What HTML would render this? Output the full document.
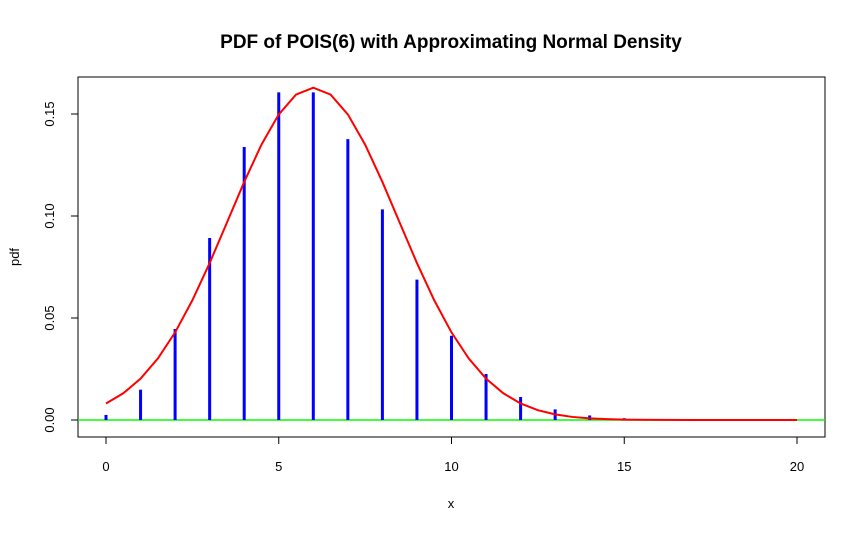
<!DOCTYPE html>
<html><head><meta charset="utf-8"><style>
body{margin:0;background:#fff;}
svg text{font-family:"Liberation Sans",sans-serif;}
</style></head><body>
<svg id="chart" width="865" height="532" xmlns="http://www.w3.org/2000/svg">
<rect width="865" height="532" fill="#fff"/>
<text x="451" y="48" text-anchor="middle" font-size="19" font-weight="bold">PDF of POIS(6) with Approximating Normal Density</text>
<rect x="78" y="77" width="747" height="360" fill="none" stroke="#000"/>
<text x="451" y="508" text-anchor="middle" font-size="13">x</text>
<text transform="translate(19,257) rotate(-90)" text-anchor="middle" font-size="13">pdf</text>
<g id="axes"></g>
<line x1="78" x2="825" y1="420" y2="420" stroke="#00ff00" stroke-width="1.5"/>
<g id="bars"></g>
<polyline id="curve" fill="none" stroke="#ff0000" stroke-width="2"/>
</svg>
<script>
const xTicks=[0,5,10,15,20];
const yTicks=[0,0.05,0.10,0.15];
const yTickLabels=["0.00","0.05","0.10","0.15"];
const poisX=[0,1,2,3,4,5,6,7,8,9,10,11,12,13,14,15,16,17,18,19,20];
const poisPdf=[0.00248,0.01487,0.04462,0.08924,0.13385,0.16062,0.16062,0.13768,0.10326,0.06884,0.04130,0.02253,0.01126,0.0052,0.00223,0.00089,0.00033,0.00012,0.00004,0.00001,0];
const normX=[0,0.5,1,1.5,2,2.5,3,3.5,4,4.5,5,5.5,6,6.5,7,7.5,8,8.5,9,9.5,10,10.5,11,11.5,12,12.5,13,13.5,14,14.5,15,16,17,18,19,20];
const normPdf=[0.00811,0.01309,0.02028,0.03013,0.04293,0.05869,0.07694,0.09676,0.1167,0.1350,0.1498,0.1595,0.16287,0.1595,0.1498,0.1350,0.1167,0.09676,0.07694,0.05869,0.04293,0.03013,0.02028,0.01309,0.00811,0.00482,0.00275,0.0015,0.00079,0.0004,0.00019,0.00004,0.00001,0,0,0];
const NS="http://www.w3.org/2000/svg";
const sx=v=>106+v*(797-106)/20;
const sy=v=>420-v*(420-114)/0.15;
const axes=document.getElementById('axes');
function mk(tag,attrs,parent){const e=document.createElementNS(NS,tag);for(const k in attrs)e.setAttribute(k,attrs[k]);parent.appendChild(e);return e;}
mk('line',{x1:sx(0),x2:sx(20),y1:437,y2:437,stroke:'#000'},axes);
xTicks.forEach(t=>{
  const l=mk('line',{x1:sx(t),x2:sx(t),y1:437,y2:444,stroke:'#000'},axes);
  
  
  const tx=mk('text',{x:sx(t),y:471,'text-anchor':'middle','font-size':'13'},axes);
  tx.textContent=t;
  
  
});
mk('line',{x1:78,x2:78,y1:sy(0),y2:sy(0.15),stroke:'#000'},axes);
yTicks.forEach((t,i)=>{
  const l=mk('line',{x1:71,x2:78,y1:sy(t),y2:sy(t),stroke:'#000'},axes);
  
  
  const tx=mk('text',{transform:`translate(54,${sy(t)}) rotate(-90)`,'text-anchor':'middle','font-size':'13'},axes);
  tx.textContent=yTickLabels[i];
  
  
});
const bars=document.getElementById('bars');
poisX.forEach((x,i)=>{
  const b=mk('line',{x1:sx(x),x2:sx(x),y1:sy(0),y2:sy(poisPdf[i]),stroke:'#0000ff','stroke-width':'3'},bars);
  
  
});
document.getElementById('curve').setAttribute('points',normX.map((x,i)=>sx(x)+','+sy(normPdf[i])).join(' '));
</script>
</body></html>
